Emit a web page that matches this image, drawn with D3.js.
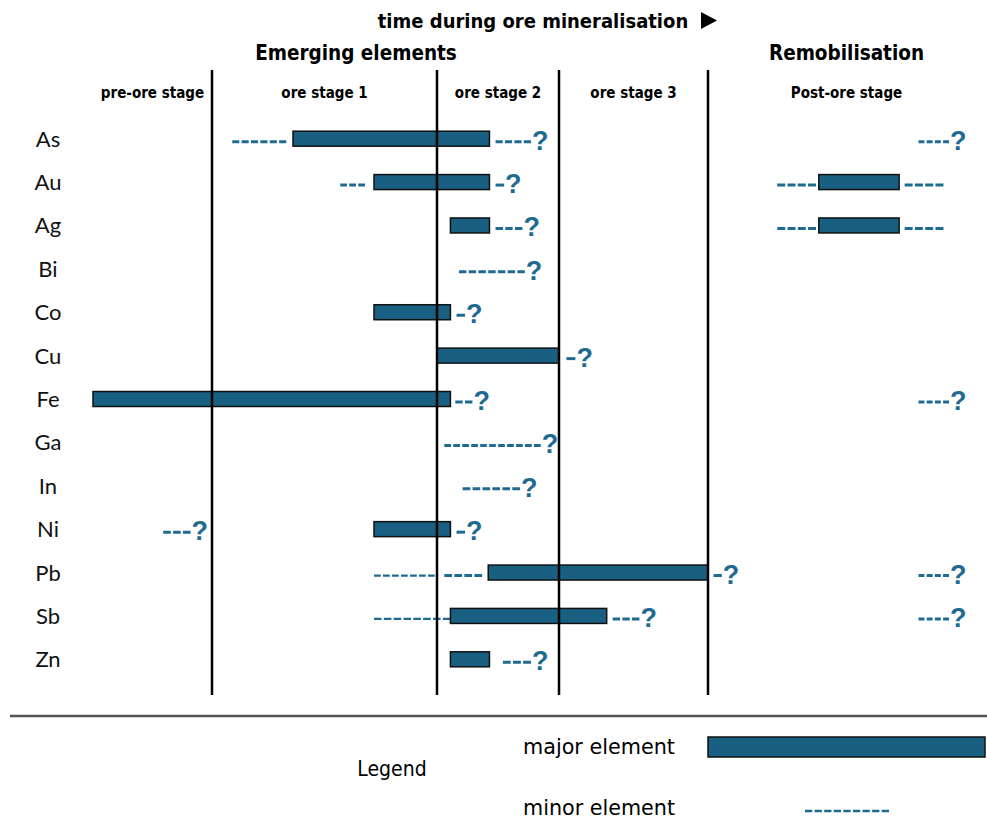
<!DOCTYPE html>
<html>
<head>
<meta charset="utf-8">
<script src="https://cdn.jsdelivr.net/npm/d3@7"></script>
<style>
  html, body { margin: 0; padding: 0; background: #fff; }
  svg { display: block; }
</style>
</head>
<body>
<svg id="chart" width="987" height="821"></svg>
<script>
// Element order, top to bottom
const elements = ["As", "Au", "Ag", "Bi", "Co", "Cu", "Fe", "Ga", "In", "Ni", "Pb", "Sb", "Zn"];

// Stages along the time axis (stage index i spans [i, i+1])
const stages = ["pre-ore stage", "ore stage 1", "ore stage 2", "ore stage 3", "Post-ore stage"];

// Major-element occurrence (start, end in stage units)
const majorEl    = ["As", "Au", "Ag", "Co", "Cu", "Fe", "Ni", "Pb", "Sb", "Zn", "Au", "Ag"];
const majorStart = [1.36, 1.72, 2.11, 1.72, 2.00, 0.00, 1.72, 2.42, 2.11, 2.11, 4.40, 4.40];
const majorEnd   = [2.43, 2.43, 2.43, 2.11, 3.00, 2.11, 2.11, 4.00, 3.32, 2.43, 4.69, 4.69];

// Minor-element occurrence (start, end in stage units); q = uncertain end, thin = lighter dashes
const minorEl    = ["As", "As", "As", "Au", "Au", "Au", "Au", "Ag", "Ag", "Ag", "Bi", "Co", "Cu", "Fe", "Fe", "Ga", "In", "Ni", "Ni", "Pb", "Pb", "Pb", "Pb", "Sb", "Sb", "Sb", "Zn"];
const minorStart = [1.09, 2.48, 4.76, 1.57, 2.48, 4.25, 4.71, 2.48, 4.25, 4.71, 2.18, 2.16, 3.05, 2.15, 4.76, 2.06, 2.21, 0.59, 2.16, 1.72, 2.06, 4.02, 4.76, 1.72, 3.36, 4.76, 2.54];
const minorEnd   = [1.33, 2.77, 4.87, 1.68, 2.55, 4.39, 4.85, 2.70, 4.39, 4.85, 2.72, 2.23, 3.11, 2.29, 4.87, 2.85, 2.68, 0.82, 2.23, 1.99, 2.37, 4.05, 4.87, 2.11, 3.54, 4.87, 2.77];
const minorQ     = [0, 1, 1, 0, 1, 0, 0, 1, 0, 0, 1, 1, 1, 1, 1, 1, 1, 1, 1, 0, 0, 1, 1, 0, 1, 1, 1];
const minorThin  = [0, 0, 0, 0, 0, 0, 0, 0, 0, 0, 0, 0, 0, 0, 0, 0, 0, 0, 0, 1, 0, 0, 0, 1, 0, 0, 0];

const legendItems = ["major element", "minor element"];

const BAR_FILL = "#195f82";
const DASH_COL = "#1f6a90";
const NARROW = "'Liberation Sans Narrow', 'DejaVu Sans Condensed', 'Roboto', sans-serif";
const LABEL_FONT = "Lato, 'Open Sans', sans-serif";

const svg = d3.select("#chart");

// Piecewise time scale: each stage gets its own width
const x = d3.scaleLinear()
  .domain([0, 1, 2, 3, 4, 5])
  .range([93, 212, 437, 559, 708, 985]);

const y = d3.scaleBand()
  .domain(elements)
  .range([117, 681])
  .padding(0);

const rowC = d => y(d) + y.bandwidth() / 2;
const barH = 15;

// Dash pattern that always ends on a whole dash
const GAP = 2.3, DASH = 7;
function dashArray(len) {
  const n = Math.max(1, Math.round((len + GAP) / (DASH + GAP)));
  const d = (len - (n - 1) * GAP) / n;
  return `${d.toFixed(2)} ${GAP}`;
}

// Title with arrow
const title = svg.append("g");
title.append("text")
  .attr("x", 533).attr("y", 28)
  .attr("text-anchor", "middle")
  .style("font-family", NARROW).style("font-weight", "bold").style("font-size", "20px")
  .text("time during ore mineralisation");
title.append("path")
  .attr("d", "M701,12 L717,20.5 L701,29 Z")
  .attr("fill", "#000");

// Phase headings
svg.append("text")
  .attr("x", x(1.64)).attr("y", 60)
  .attr("text-anchor", "middle")
  .style("font-family", NARROW).style("font-weight", "bold").style("font-size", "20.5px")
  .text("Emerging elements");
svg.append("text")
  .attr("x", x(4.5)).attr("y", 60)
  .attr("text-anchor", "middle")
  .style("font-family", NARROW).style("font-weight", "bold").style("font-size", "20.5px")
  .text("Remobilisation");

// Stage labels centred in each stage
svg.selectAll("text.stage")
  .data(stages)
  .join("text")
  .attr("class", "stage")
  .attr("x", (d, i) => x(i + 0.5))
  .attr("y", 98)
  .attr("text-anchor", "middle")
  .style("font-family", NARROW).style("font-weight", "bold").style("font-size", "15px")
  .text(d => d);

// Element labels
svg.selectAll("text.el")
  .data(elements)
  .join("text")
  .attr("class", "el")
  .attr("x", 48)
  .attr("y", d => rowC(d) + 8)
  .attr("text-anchor", "middle")
  .style("font-family", LABEL_FONT).style("font-size", "22px")
  .style("fill", "#111")
  .text(d => d);

// Minor occurrences as dashed strokes
const minor = minorEl.map((el, i) => ({
  el, from: minorStart[i], to: minorEnd[i], q: minorQ[i], thin: minorThin[i]
}));

svg.selectAll("line.minor")
  .data(minor)
  .join("line")
  .attr("class", "minor")
  .attr("x1", d => x(d.from))
  .attr("x2", d => x(d.to))
  .attr("y1", d => rowC(d.el) + 3)
  .attr("y2", d => rowC(d.el) + 3)
  .attr("stroke", DASH_COL)
  .attr("stroke-width", d => d.thin ? 2.2 : 3)
  .attr("stroke-dasharray", d => dashArray(x(d.to) - x(d.from)));

svg.selectAll("text.q")
  .data(minor.filter(d => d.q))
  .join("text")
  .attr("class", "q")
  .attr("x", d => x(d.to) + 1)
  .attr("y", d => rowC(d.el) + 11)
  .style("font-family", "'Liberation Sans', Arial, sans-serif")
  .style("font-weight", "bold").style("font-size", "27px")
  .style("fill", DASH_COL)
  .text("?");

// Major occurrences as bars
const major = majorEl.map((el, i) => ({ el, from: majorStart[i], to: majorEnd[i] }));

svg.selectAll("rect.major")
  .data(major)
  .join("rect")
  .attr("class", "major")
  .attr("x", d => x(d.from))
  .attr("width", d => x(d.to) - x(d.from))
  .attr("y", d => rowC(d.el) - barH / 2)
  .attr("height", barH)
  .attr("fill", BAR_FILL)
  .attr("stroke", "#111")
  .attr("stroke-width", 1.5);

// Stage boundaries
svg.selectAll("line.bound")
  .data([1, 2, 3, 4])
  .join("line")
  .attr("class", "bound")
  .attr("x1", d => x(d)).attr("x2", d => x(d))
  .attr("y1", 70).attr("y2", 695)
  .attr("stroke", "#000")
  .attr("stroke-width", 2.5);

// Separator above legend
svg.append("line")
  .attr("x1", 10).attr("x2", 987)
  .attr("y1", 716).attr("y2", 716)
  .attr("stroke", "#555").attr("stroke-width", 2.5);

// Legend
svg.append("text")
  .attr("x", 392).attr("y", 776)
  .attr("text-anchor", "middle")
  .style("font-family", NARROW).style("font-size", "21px")
  .text("Legend");

svg.selectAll("text.leg")
  .data(legendItems)
  .join("text")
  .attr("class", "leg")
  .attr("x", 523)
  .attr("y", (d, i) => 754 + i * 61)
  .attr("textLength", 152)
  .attr("lengthAdjust", "spacingAndGlyphs")
  .style("font-family", NARROW).style("font-size", "21px")
  .text(d => d);

svg.append("rect")
  .attr("x", x(4)).attr("y", 737)
  .attr("width", x(5) - x(4)).attr("height", 20)
  .attr("fill", BAR_FILL)
  .attr("stroke", "#111").attr("stroke-width", 1.5);

svg.append("line")
  .attr("x1", 805).attr("x2", 889)
  .attr("y1", 811).attr("y2", 811)
  .attr("stroke", DASH_COL).attr("stroke-width", 2.5)
  .attr("stroke-dasharray", dashArray(84));
</script>
</body>
</html>
